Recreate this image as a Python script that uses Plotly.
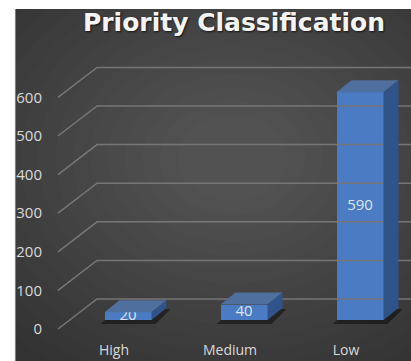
import plotly.graph_objects as go

# ---- data ----
categories = ["High", "Medium", "Low"]
values = [20, 40, 590]
y_ticks = [0, 100, 200, 300, 400, 500, 600]
title_text = "Priority Classification"

# ---- geometry (pixels) ----
W, H = 411, 361
ML, MT, MB, MR = 15, 9, 21, 0
PPU = 0.386            # pixels per value unit
BASE_PX = 320          # front baseline pixel row
CAT_PX0, CAT_STEP = 128, 116
BAR_W_PX = 47
DEPTH_DX_PX, DEPTH_DY_PX = 15, 12
WALL_DY_PX = 21
WALL_X_PX = 97
FLOOR_X_PX = 58
LABEL_DY_PX = 9
XLABEL_SHIFT_PX = 14

def ux(px):
    return (px - CAT_PX0) / CAT_STEP

def uy(px):
    return (BASE_PX - px) / PPU

x_range = [ux(ML), ux(W - MR)]
y_range = [uy(H - MB), uy(MT)]
bw = BAR_W_PX / CAT_STEP
ddx = DEPTH_DX_PX / CAT_STEP
ddy = DEPTH_DY_PX / PPU
wall_dy = WALL_DY_PX / PPU
lab_dy = LABEL_DY_PX / PPU

fig = go.Figure()

# back wall gridlines (perspective)
gx, gy = [], []
for v in y_ticks:
    gx += [ux(FLOOR_X_PX), ux(WALL_X_PX), x_range[1] + 0.05, None]
    gy += [v - lab_dy, v + wall_dy, v + wall_dy, None]
fig.add_trace(go.Scatter(x=gx, y=gy, mode="lines",
                         line=dict(color="#767676", width=1.5),
                         hoverinfo="skip", showlegend=False))

xs = list(range(len(categories)))

# front faces
fig.add_trace(go.Bar(x=xs, y=values, width=bw,
                     marker=dict(color="#4a7bc3", line=dict(width=0)),
                     hoverinfo="skip", showlegend=False))

# value labels centred on front face
fig.add_trace(go.Scatter(x=xs, y=[v / 2 for v in values], mode="text",
                         text=[str(v) for v in values],
                         textfont=dict(family="Open Sans", size=15, color="#dde4ee"),
                         hoverinfo="skip", showlegend=False))

shapes = []
# background glow
N = 16
for k in range(N):
    r = 1.0 - k * 0.055
    cx, cy = 0.55, 0.55
    shapes.append(dict(type="circle", xref="paper", yref="paper",
                       x0=cx - 0.8 * r, x1=cx + 0.8 * r,
                       y0=cy - 0.75 * r, y1=cy + 0.75 * r,
                       fillcolor="rgba(255,255,255,0.011)", line=dict(width=0),
                       layer="below"))
# white strips (outside chart area)
shapes.append(dict(type="rect", xref="paper", yref="paper",
                   x0=-0.2, x1=0, y0=-0.2, y1=1.2,
                   fillcolor="white", line=dict(width=0), layer="above"))
shapes.append(dict(type="rect", xref="paper", yref="paper",
                   x0=-0.2, x1=1.2, y0=1, y1=1.2,
                   fillcolor="white", line=dict(width=0), layer="above"))
# thin chart border on the left
shapes.append(dict(type="line", xref="paper", yref="paper",
                   x0=0.001, x1=0.001, y0=-0.1, y1=1,
                   line=dict(color="#8a8a8a", width=1), layer="above"))

for x, v in zip(xs, values):
    l, r = x - bw / 2, x + bw / 2
    # shadow on floor
    sx = 4 / CAT_STEP
    sy = 4 / PPU
    shapes.append(dict(type="path", xref="x", yref="y", layer="below",
                       path=f"M{l - sx},{-sy} L{r + sx},{-sy} L{r + ddx + sx},{ddy - sy * 0.3} L{l + ddx},{ddy} Z",
                       fillcolor="rgba(0,0,0,0.45)", line=dict(width=0)))
    # top face
    shapes.append(dict(type="path", xref="x", yref="y", layer="above",
                       path=f"M{l},{v} L{r},{v} L{r + ddx},{v + ddy} L{l + ddx},{v + ddy} Z",
                       fillcolor="#4f6f9f", line=dict(width=0)))
    # side face
    shapes.append(dict(type="path", xref="x", yref="y", layer="above",
                       path=f"M{r},0 L{r},{v} L{r + ddx},{v + ddy} L{r + ddx},{ddy} Z",
                       fillcolor="#30548a", line=dict(width=0)))

fig.update_layout(
    width=W, height=H,
    margin=dict(l=ML, r=MR, t=MT, b=MB, pad=0),
    paper_bgcolor="#323232",
    plot_bgcolor="rgba(0,0,0,0)",
    shapes=shapes,
    title=dict(text=title_text, x=234 / W, xref="container", xanchor="center",
               y=1 - 22 / H, yref="container", yanchor="middle",
               font=dict(family="DejaVu Sans", size=25, color="#f4f4f4", weight="bold",
                         shadow="1px 1px 2px rgba(0,0,0,0.7)")),
    xaxis=dict(range=x_range, showgrid=False, zeroline=False, showline=False,
               tickvals=[x - XLABEL_SHIFT_PX / CAT_STEP for x in xs],
               ticktext=categories, ticks="",
               tickfont=dict(family="Open Sans", size=14, color="#d9d9d9"),
               fixedrange=True),
    yaxis=dict(range=y_range, showgrid=False, zeroline=False, showline=False,
               anchor="free", position=(42 - ML) / (W - ML - MR),
               tickvals=[v - lab_dy for v in y_ticks],
               ticktext=[str(v) for v in y_ticks], ticks="",
               tickfont=dict(family="Open Sans", size=15, color="#d9d9d9"),
               fixedrange=True),
    bargap=0,
)

fig.write_html("out.html")
